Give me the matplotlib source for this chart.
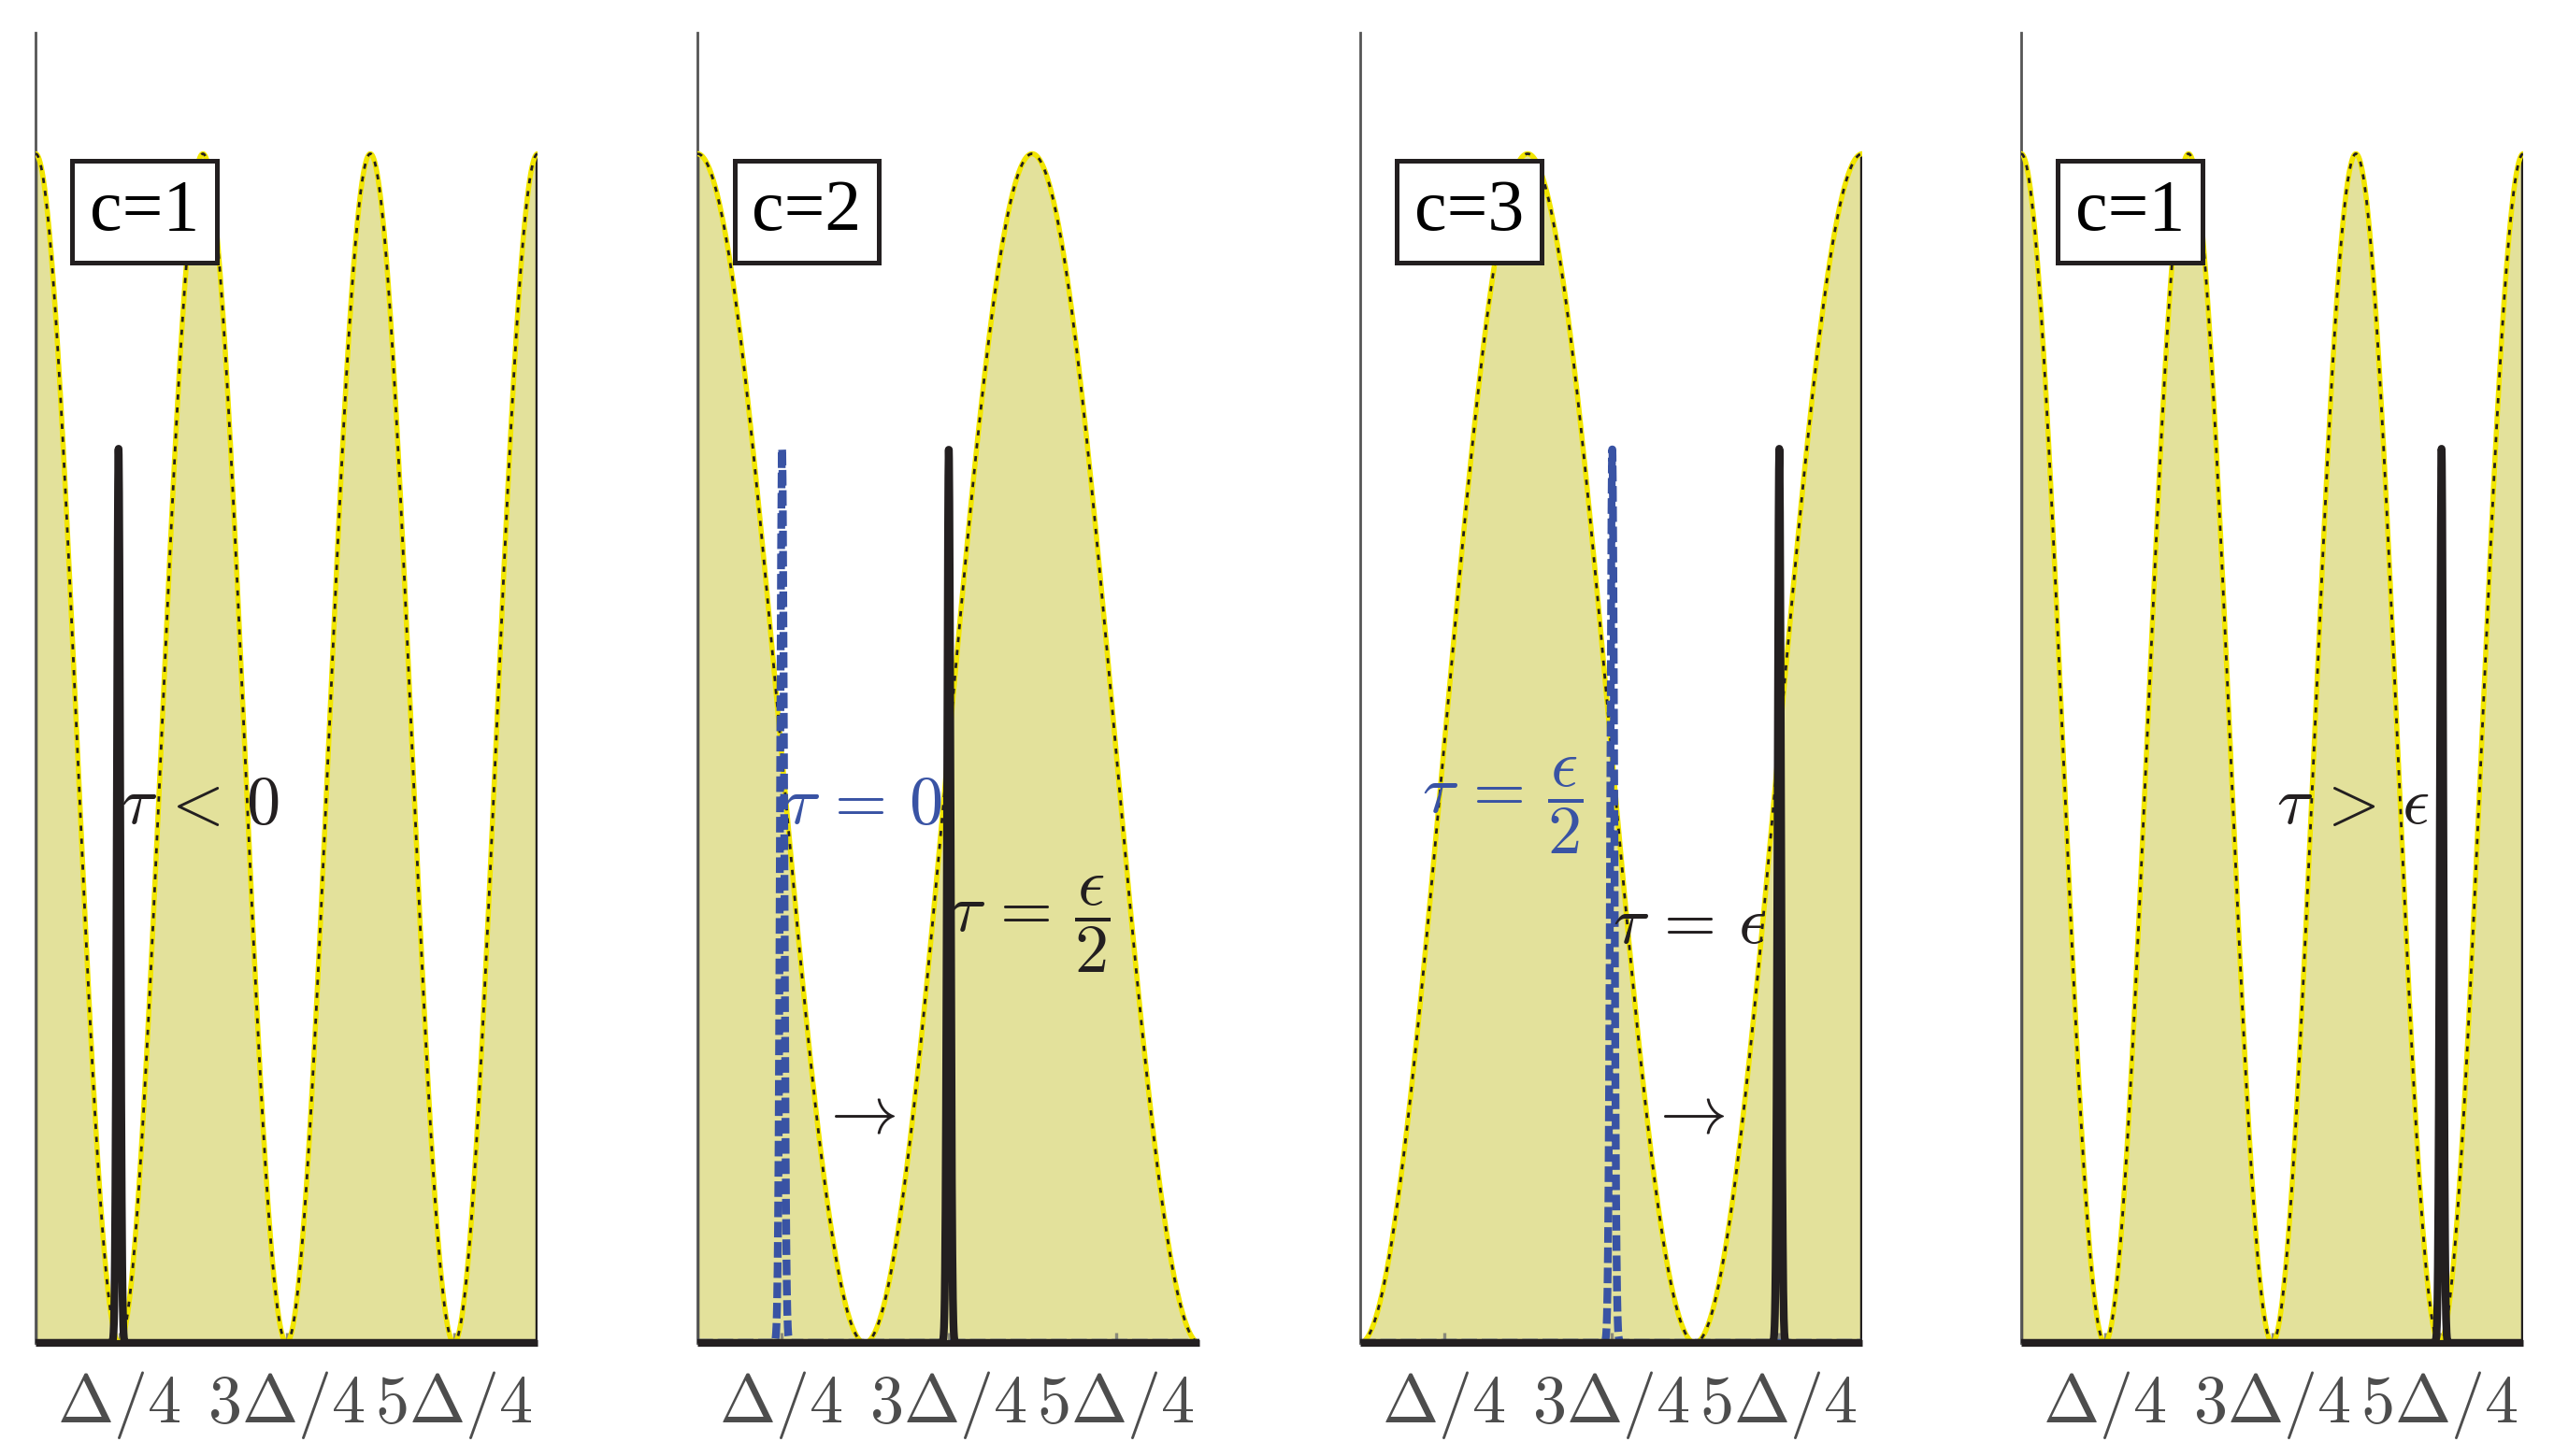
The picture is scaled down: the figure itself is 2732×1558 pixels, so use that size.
import numpy as np
import matplotlib
matplotlib.use("Agg")
import matplotlib.pyplot as plt

plt.rcParams['mathtext.fontset'] = 'cm'
plt.rcParams['font.serif'] = ['Liberation Serif', 'DejaVu Serif']

# Panel data (x in units of Delta, y normalised to peak = 1)
box_labels = ["c=1", "c=2", "c=3", "c=1"]
periods = [0.5, 1.0, 1.0, 0.5]          # period of the cos^2 envelope
peak_at = [0.0, 0.0, 0.5, 0.0]          # x position of one maximum
black_spike_x = [0.248, 0.751, 1.252, 1.256]
blue_spike_x = [None, 0.253, 0.753, None]
spike_height = 0.752
spike_width = 0.005

tick_pos = [0.25, 0.75, 1.25]
tick_labels = [r'$\Delta/4$', r'$3\Delta/4$', r'$5\Delta/4$']

# texts: (x, y, string, colour)
panel_texts = [
    [(0.255, 0.452, r'$\tau\, <\, 0$', 'k')],
    [(0.258, 0.452, r'$\tau\, =\, 0$', 'b'),
     (0.752, 0.352, r'$\tau\, =\, \dfrac{\epsilon}{2}$', 'k'),
     (0.362, 0.192, r'$\rightarrow$', 'k')],
    [(0.185, 0.452, r'$\tau\, =\, \dfrac{\epsilon}{2}$', 'b'),
     (0.755, 0.352, r'$\tau\, =\, \epsilon$', 'k'),
     (0.860, 0.192, r'$\rightarrow$', 'k')],
    [(0.762, 0.452, r'$\tau\, >\, \epsilon$', 'k')],
]

fill_col = '#e3e19b'
line_col = '#f2e600'
blue = '#3953a4'
black = '#231f20'
colors = {'k': black, 'b': blue}

fig = plt.figure(figsize=(13.66, 7.79), dpi=200)
lefts = [38 / 2732, 746 / 2732, 1455 / 2732, 2162 / 2732]
x = np.linspace(0, 1.5, 3000)

for i in range(4):
    ax = fig.add_axes([lefts[i], 0.0777, 0.1966, 0.90])
    y = (1 + np.cos(2 * np.pi * (x - peak_at[i]) / periods[i])) / 2

    ax.fill_between(x, 0, y, facecolor=fill_col, edgecolor='none', zorder=1)
    ax.vlines([x[0], x[-1]], 0, [y[0], y[-1]], color=black, lw=1.6, zorder=2)
    ax.plot(x, y, color=line_col, lw=2.0, zorder=3)
    ax.plot(x, y, color=black, lw=1.0, ls=(0, (2, 3)), zorder=4)

    if blue_spike_x[i] is not None:
        sp = spike_height * np.exp(-0.5 * ((x - blue_spike_x[i]) / (spike_width * 1.2)) ** 2)
        ax.plot(x, sp, color=blue, lw=3.0, ls=(0, (2.0, 0.6)), zorder=5)
    sp = spike_height * np.exp(-0.5 * ((x - black_spike_x[i]) / spike_width) ** 2)
    ax.plot(x, sp, color=black, lw=3.0, zorder=6)

    ax.hlines(0, 0, 1.5, color=black, lw=2.6, zorder=7, clip_on=False)

    for tx, ty, s, c in panel_texts[i]:
        ax.text(tx, ty, s, color=colors[c], fontsize=26, ha='left', va='center', zorder=8)

    ax.text(0.326, 0.951, box_labels[i], family='serif', fontsize=28,
            ha='center', va='center', zorder=9,
            bbox=dict(boxstyle='square,pad=0.24', facecolor='white', edgecolor=black, lw=1.8))

    ax.set_xlim(0, 1.5)
    ax.set_ylim(0, 1.102)
    ax.set_xticks(tick_pos)
    ax.set_xticklabels(tick_labels)
    ax.set_yticks([])
    ax.tick_params(axis='x', direction='in', length=4, width=1.2, color='#8a8a7a',
                   labelsize=26, labelcolor='#4d4d4d', pad=10)
    for s in ['top', 'right', 'bottom']:
        ax.spines[s].set_visible(False)
    ax.spines['left'].set_color('#555555')
    ax.spines['left'].set_linewidth(1.0)

fig.savefig('out.png', dpi=200)
